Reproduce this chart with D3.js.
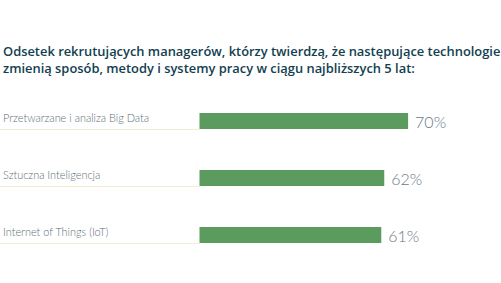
<!DOCTYPE html>
<html><head><meta charset="utf-8">
<script src="https://cdn.jsdelivr.net/npm/d3@7"></script>
<style>body{margin:0;background:#fff;overflow:hidden}svg{display:block}</style>
</head><body>
<svg id="c" width="501" height="283"></svg>
<script>
const titleLines = ["Odsetek rekrutujących managerów, którzy twierdzą, że następujące technologie", "zmienią sposób, metody i systemy pracy w ciągu najbliższych 5 lat:"];
const categories = ["Przetwarzane i analiza Big Data", "Sztuczna Inteligencja", "Internet of Things (IoT)"];
const values = [70, 62, 61];
const valueLabels = ["70%", "62%", "61%"];

const svg = d3.select("#c");
svg.append("rect").attr("width",501).attr("height",283).attr("fill","#fff");

svg.selectAll("text.title").data(titleLines).join("text").attr("class","title")
  .attr("x",3).attr("y",(d,i)=>56+i*17)
  .attr("font-family","Open Sans").attr("font-weight",600)
  .attr("font-size",12.9).attr("fill","#12404f").text(d=>d);

const x = d3.scaleLinear().domain([0,100]).range([199.5,497.5]);
const y = d3.scalePoint().domain(categories).range([121,235]);
const bh = 16;

const g = svg.append("g");
categories.forEach((c,i)=>{
  const cy = y(c);
  g.append("line").attr("x1",0).attr("x2",x(0)).attr("y1",cy+8.5).attr("y2",cy+8.5)
    .attr("stroke","#f1ecd2").attr("stroke-width",1.2);
  g.append("text").attr("x",3).attr("y",cy+1).attr("font-family","Lato").attr("font-weight",300)
    .attr("font-size",10.9).attr("fill","#5e6f78").text(c);
  g.append("rect").attr("x",x(0)).attr("y",cy-bh/2).attr("width",x(values[i])-x(0)).attr("height",bh)
    .attr("fill","#5b9b5d");
  g.append("text").attr("x",x(values[i])+7).attr("y",cy+6.5).attr("font-family","Lato").attr("font-weight",300)
    .attr("font-size",16).attr("fill","#687987").text(valueLabels[i]);
});
</script>
</body></html>
